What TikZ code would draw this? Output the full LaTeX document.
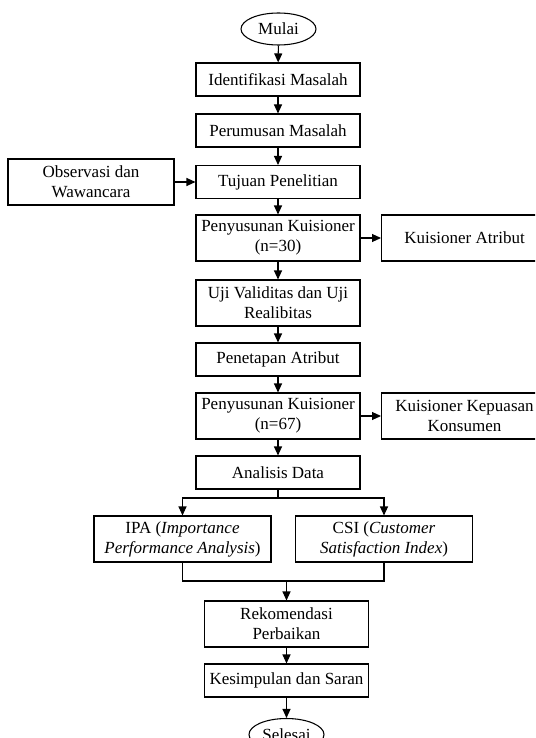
\documentclass[tikz,border=0pt]{standalone}
\usepackage{fontspec}
\setmainfont{Liberation Serif}
\usetikzlibrary{arrows.meta,shapes.geometric}
\begin{document}
\begin{tikzpicture}[x=0.75pt,y=-0.75pt,
  font=\fontsize{12.75}{15}\selectfont,
  box/.style={draw,line width=0.8pt,minimum width=123pt,minimum height=24.75pt,inner sep=0pt,align=center},
  tall/.style={box,minimum height=34.5pt},
  side/.style={tall,minimum width=124.5pt},
  wide/.style={tall,minimum width=132.75pt},
  term/.style={draw,ellipse,line width=0.8pt,minimum width=56.25pt,minimum height=24pt,inner sep=0pt},
  arr/.style={line width=0.8pt,-{Triangle[length=6.75pt,width=6pt]}},
  ln/.style={line width=0.8pt}]
\clip (0,0) rectangle (535,738);
\fill[white] (0,0) rectangle (535,738);
% main column
\node[term] (mulai) at (278.5,29) {Mulai};
\node[box] (ident) at (278,79.5) {Identifikasi Masalah};
\node[box] (perum) at (278,130.5) {Perumusan Masalah};
\node[box] (tujuan) at (278,182) {Tujuan Penelitian};
\node[side] (obs) at (91,182) {Observasi dan\\Wawancara};
\node[tall] (pen30) at (278,238) {Penyusunan Kuisioner\\(n=30)};
\node[side,anchor=west] (katr) at (381,238) {Kuisioner Atribut};
\node[tall] (uji) at (278,303) {Uji Validitas dan Uji\\Realibitas};
\node[box] (penet) at (278,359.5) {Penetapan Atribut};
\node[tall] (pen67) at (278,416) {Penyusunan Kuisioner\\(n=67)};
\node[side,anchor=west] (kkep) at (381,416) {Kuisioner Kepuasan\\Konsumen};
\node[box] (anal) at (278,472.5) {Analisis Data};
\node[wide] (ipa) at (182.5,539) {IPA (\textit{Importance}\\\textit{Performance Analysis})};
\node[wide] (csi) at (384,539) {CSI (\textit{Customer}\\\textit{Satisfaction Index})};
\node[tall] (rek) at (286.5,624) {Rekomendasi\\Perbaikan};
\node[box] (kes) at (286.5,680.5) {Kesimpulan dan Saran};
\node[term] (sel) at (286.5,734.5) {Selesai};
\coordinate (split) at (278,498);
\coordinate (merge) at (286.5,581);
% connectors
\draw[arr] (mulai) -- (ident);
\draw[arr] (ident) -- (perum);
\draw[arr] (perum) -- (tujuan);
\draw[arr] (obs) -- (tujuan);
\draw[arr] (tujuan) -- (pen30);
\draw[arr] (pen30) -- (katr);
\draw[arr] (pen30) -- (uji);
\draw[arr] (uji) -- (penet);
\draw[arr] (penet) -- (pen67);
\draw[arr] (pen67) -- (kkep);
\draw[arr] (pen67) -- (anal);
\draw[ln] (anal) -- (split);
\draw[arr] (split) -| (ipa.north);
\draw[arr] (split) -| (csi.north);
\draw[ln] (ipa.south) |- (merge) -| (csi.south);
\draw[arr] (merge) -- (rek);
\draw[arr] (rek) -- (kes);
\draw[arr] (kes) -- (sel);
\end{tikzpicture}
\end{document}
